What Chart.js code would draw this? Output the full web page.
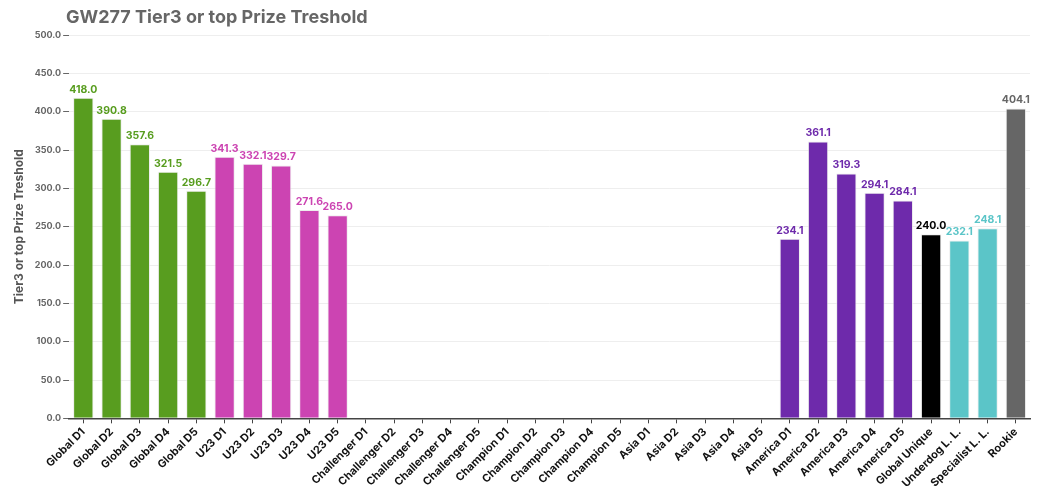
<!DOCTYPE html>
<html lang="en">
<head>
    <meta charset="UTF-8">
    <title>GW277 Tier3 or top Prize Treshold</title>
    <script src="https://cdn.jsdelivr.net/npm/chart.js"></script>
    <style>
        html, body { margin: 0; padding: 0; background: #fff; }
        #wrap { width: 1050px; height: 492px; }
    </style>
</head>
<body>
    <div id="wrap"><canvas id="prizeChart"></canvas></div>

    <script>
        var chartTitle = 'GW277 Tier3 or top Prize Treshold';
        var categories = [
            'Global D1', 'Global D2', 'Global D3', 'Global D4', 'Global D5',
            'U23 D1', 'U23 D2', 'U23 D3', 'U23 D4', 'U23 D5',
            'Challenger D1', 'Challenger D2', 'Challenger D3', 'Challenger D4', 'Challenger D5',
            'Champion D1', 'Champion D2', 'Champion D3', 'Champion D4', 'Champion D5',
            'Asia D1', 'Asia D2', 'Asia D3', 'Asia D4', 'Asia D5',
            'America D1', 'America D2', 'America D3', 'America D4', 'America D5',
            'Global Unique', 'Underdog L. L.', 'Specialist L. L.', 'Rookie'
        ];
        var thresholds = [
            418.0, 390.8, 357.6, 321.5, 296.7,
            341.3, 332.1, 329.7, 271.6, 265.0,
            null, null, null, null, null,
            null, null, null, null, null,
            null, null, null, null, null,
            234.1, 361.1, 319.3, 294.1, 284.1,
            240.0, 232.1, 248.1, 404.1
        ];
        var groupColors = [
            '#589d1f', '#589d1f', '#589d1f', '#589d1f', '#589d1f',
            '#cc44b2', '#cc44b2', '#cc44b2', '#cc44b2', '#cc44b2',
            '#888', '#888', '#888', '#888', '#888',
            '#888', '#888', '#888', '#888', '#888',
            '#888', '#888', '#888', '#888', '#888',
            '#6e2aab', '#6e2aab', '#6e2aab', '#6e2aab', '#6e2aab',
            '#000000', '#5bc5c8', '#5bc5c8', '#666666'
        ];
        var yTicks = [0, 50, 100, 150, 200, 250, 300, 350, 400, 450, 500];

        var fontFamily = 'Inter, "Noto Sans", sans-serif';

        // title drawn by hand so it can sit over the plot's left edge
        var leftTitle = {
            id: 'leftTitle',
            afterDraw: function(chart) {
                var ctx = chart.ctx;
                ctx.save();
                ctx.font = 'bold 18px ' + fontFamily;
                ctx.fillStyle = '#666';
                ctx.textAlign = 'left';
                ctx.textBaseline = 'middle';
                ctx.fillText(chartTitle, 66, 18);
                ctx.restore();
            }
        };

        // draw the value over each bar (no datalabels plugin offline)
        var valueLabels = {
            id: 'valueLabels',
            afterDatasetsDraw: function(chart) {
                var ctx = chart.ctx;
                var meta = chart.getDatasetMeta(0);
                ctx.save();
                ctx.font = 'bold 10.5px ' + fontFamily;
                ctx.textAlign = 'center';
                ctx.textBaseline = 'bottom';
                meta.data.forEach(function(bar, i) {
                    var v = thresholds[i];
                    if (v === null) return;
                    ctx.fillStyle = groupColors[i];
                    ctx.fillText(v.toFixed(1), bar.x, bar.y - 3);
                });
                ctx.restore();
            }
        };

        var ctx = document.getElementById('prizeChart').getContext('2d');
        var prizeChart = new Chart(ctx, {
            type: 'bar',
            data: {
                labels: categories,
                datasets: [{
                    label: 'Tier3 or top Prize Treshold',
                    data: thresholds,
                    backgroundColor: groupColors,
                    borderColor: 'rgba(230,230,230,0.7)',
                    borderWidth: 1,
                    categoryPercentage: 0.72,
                    barPercentage: 1.0
                }]
            },
            plugins: [valueLabels, leftTitle],
            options: {
                responsive: true,
                maintainAspectRatio: false,
                animation: false,
                layout: { padding: { left: 12, right: 20, top: 35, bottom: 0 } },
                plugins: {
                    legend: { display: false },
                    tooltip: { enabled: false },
                    title: { display: false }
                },
                scales: {
                    x: {
                        grid: {
                            display: true,
                            drawOnChartArea: false,
                            drawTicks: true,
                            tickLength: 5,
                            tickColor: '#444',
                            offset: false
                        },
                        border: { display: true, color: '#444', width: 1.5 },
                        ticks: {
                            autoSkip: false,
                            maxRotation: 45,
                            minRotation: 45,
                            color: '#111',
                            font: { family: fontFamily, size: 11, weight: 'bold' },
                            padding: 2
                        }
                    },
                    y: {
                        min: 0,
                        max: 500,
                        afterBuildTicks: function(axis) {
                            axis.ticks = yTicks.map(function(v) { return { value: v }; });
                        },
                        grid: {
                            color: '#eeeeee',
                            drawTicks: true,
                            tickLength: 6,
                            tickColor: '#666'
                        },
                        border: { display: false },
                        ticks: {
                            color: '#666',
                            font: { family: fontFamily, size: 9, weight: 'bold' },
                            padding: 2,
                            callback: function(v) { return Number(v).toFixed(1); }
                        },
                        title: {
                            display: true,
                            text: 'Tier3 or top Prize Treshold',
                            color: '#555',
                            font: { family: fontFamily, size: 12, weight: 'bold' },
                            padding: { top: 0, bottom: 6 }
                        }
                    }
                }
            }
        });
    </script>
</body>
</html>
